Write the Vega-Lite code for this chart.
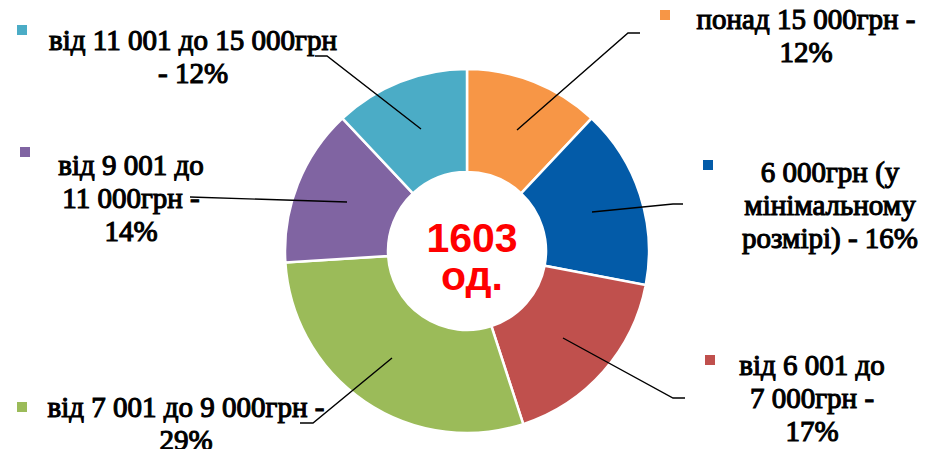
{
  "$schema": "https://vega.github.io/schema/vega-lite/v6.json",
  "width": 927,
  "height": 449,
  "padding": 0,
  "autosize": {"type": "none"},
  "background": "white",
  "config": {"view": {"stroke": null}},
  "datasets": {
    "slices": [
      {"cat": "понад 15 000грн", "pct": 12, "ord": 1, "label": "понад 15 000грн -\n12%", "lx": 806, "ly": 29, "mx": 665, "my": 15},
      {"cat": "6 000грн", "pct": 16, "ord": 2, "label": "6 000грн (у\nмінімальному\nрозмірі) - 16%", "lx": 830, "ly": 182, "mx": 708, "my": 165},
      {"cat": "від 6 001 до 7 000грн", "pct": 17, "ord": 3, "label": "від 6 001 до\n7 000грн -\n17%", "lx": 812, "ly": 375, "mx": 710, "my": 360},
      {"cat": "від 7 001 до 9 000грн", "pct": 29, "ord": 4, "label": "від 7 001 до 9 000грн -\n29%", "lx": 186, "ly": 417, "mx": 22, "my": 407},
      {"cat": "від 9 001 до 11 000грн", "pct": 14, "ord": 5, "label": "від 9 001 до\n11 000грн -\n14%", "lx": 131, "ly": 175, "mx": 25, "my": 152},
      {"cat": "від 11 001 до 15 000грн", "pct": 12, "ord": 6, "label": "від 11 001 до 15 000грн\n- 12%", "lx": 193, "ly": 50, "mx": 22, "my": 30}
    ],
    "leaders": [
      {"cat": "понад 15 000грн", "i": 1, "x": 517, "y": 130},
      {"cat": "понад 15 000грн", "i": 2, "x": 628, "y": 33},
      {"cat": "понад 15 000грн", "i": 3, "x": 640, "y": 33},
      {"cat": "6 000грн", "i": 1, "x": 592, "y": 212},
      {"cat": "6 000грн", "i": 2, "x": 673, "y": 204},
      {"cat": "6 000грн", "i": 3, "x": 683, "y": 204},
      {"cat": "від 6 001 до 7 000грн", "i": 1, "x": 563, "y": 338},
      {"cat": "від 6 001 до 7 000грн", "i": 2, "x": 673, "y": 398},
      {"cat": "від 6 001 до 7 000грн", "i": 3, "x": 685, "y": 398},
      {"cat": "від 7 001 до 9 000грн", "i": 1, "x": 392, "y": 358},
      {"cat": "від 7 001 до 9 000грн", "i": 2, "x": 313, "y": 423},
      {"cat": "від 7 001 до 9 000грн", "i": 3, "x": 300, "y": 423},
      {"cat": "від 9 001 до 11 000грн", "i": 1, "x": 347, "y": 202},
      {"cat": "від 9 001 до 11 000грн", "i": 2, "x": 190, "y": 197},
      {"cat": "від 11 001 до 15 000грн", "i": 1, "x": 421, "y": 129},
      {"cat": "від 11 001 до 15 000грн", "i": 2, "x": 327, "y": 56},
      {"cat": "від 11 001 до 15 000грн", "i": 3, "x": 315, "y": 56}
    ],
    "center": [
      {"t": "1603\nод.", "x": 472, "y": 252}
    ]
  },
  "layer": [
    {
      "data": {"name": "slices"},
      "mark": {"type": "arc", "outerRadius": 182, "innerRadius": 79, "stroke": "white", "strokeWidth": 2.5},
      "encoding": {
        "x": {"datum": 467, "type": "quantitative", "scale": {"domain": [0, 927], "nice": false, "zero": false}, "axis": null},
        "y": {"datum": 251, "type": "quantitative", "scale": {"domain": [0, 449], "nice": false, "zero": false, "reverse": true}, "axis": null},
        "theta": {"field": "pct", "type": "quantitative", "stack": true},
        "order": {"field": "ord"},
        "color": {
          "field": "cat", "type": "nominal", "legend": null,
          "scale": {
            "domain": ["понад 15 000грн", "6 000грн", "від 6 001 до 7 000грн", "від 7 001 до 9 000грн", "від 9 001 до 11 000грн", "від 11 001 до 15 000грн"],
            "range": ["#F79646", "#035BA8", "#C0504D", "#9BBB59", "#8064A2", "#4BACC6"]
          }
        }
      }
    },
    {
      "data": {"name": "leaders"},
      "mark": {"type": "line", "color": "black", "strokeWidth": 1.4},
      "encoding": {
        "x": {"field": "x", "type": "quantitative"},
        "y": {"field": "y", "type": "quantitative"},
        "detail": {"field": "cat"},
        "order": {"field": "i"}
      }
    },
    {
      "data": {"name": "slices"},
      "mark": {"type": "point", "shape": "square", "filled": true, "opacity": 1, "size": 100},
      "encoding": {
        "x": {"field": "mx", "type": "quantitative"},
        "y": {"field": "my", "type": "quantitative"},
        "color": {"field": "cat", "type": "nominal", "legend": null}
      }
    },
    {
      "data": {"name": "slices"},
      "mark": {"type": "text", "font": "Liberation Serif", "fontSize": 29, "lineHeight": 33, "lineBreak": "\n", "align": "center", "baseline": "alphabetic", "fill": "black", "stroke": "black", "strokeWidth": 1.1},
      "encoding": {
        "x": {"field": "lx", "type": "quantitative"},
        "y": {"field": "ly", "type": "quantitative"},
        "text": {"field": "label"}
      }
    },
    {
      "data": {"name": "center"},
      "mark": {"type": "text", "font": "Liberation Sans", "fontWeight": "bold", "fontSize": 41, "lineHeight": 38, "lineBreak": "\n", "align": "center", "baseline": "alphabetic", "color": "#FF0000"},
      "encoding": {
        "x": {"field": "x", "type": "quantitative"},
        "y": {"field": "y", "type": "quantitative"},
        "text": {"field": "t"}
      }
    }
  ]
}
